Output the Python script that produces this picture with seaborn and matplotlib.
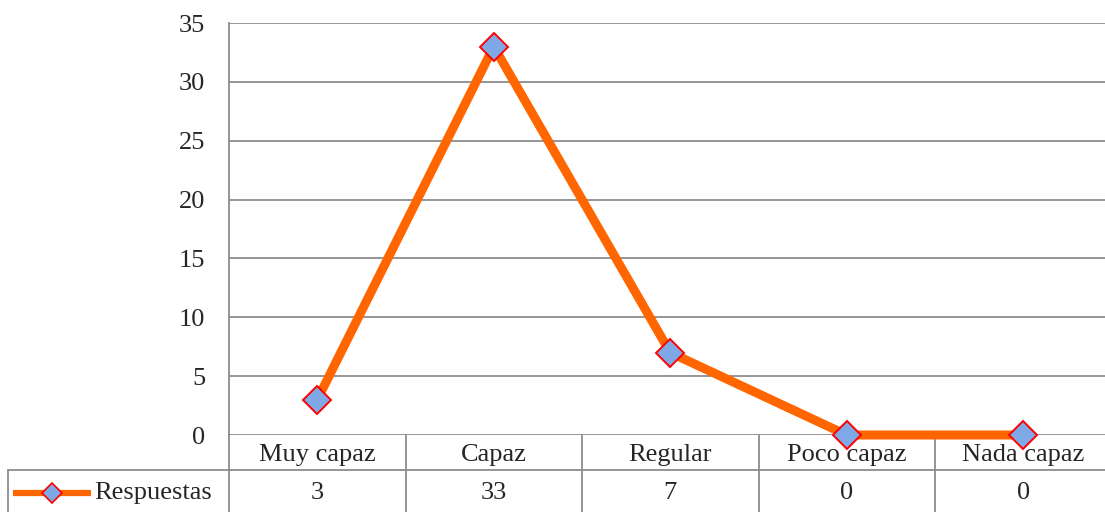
import matplotlib
matplotlib.use("Agg")
import matplotlib.pyplot as plt
import matplotlib.transforms as mtransforms
from matplotlib.lines import Line2D
import pandas as pd
import seaborn as sns

categories = ["Muy capaz", "Capaz", "Regular", "Poco capaz", "Nada capaz"]
respuestas = [3, 33, 7, 0, 0]
y_ticks = [0, 5, 10, 15, 20, 25, 30, 35]
series_name = "Respuestas"

W, H = 1105, 512
LINE_COLOR = "#FF6600"
GRID_COLOR = "#8C8C8C"
FS = 19


def fx(px):
    return px / W


def fy(py):
    return 1 - py / H


sns.set_theme(style="white")
plt.rcParams["font.family"] = ["Liberation Serif", "DejaVu Serif"]

fig = plt.figure(figsize=(W / 100, H / 100), dpi=100)
ax = fig.add_axes([fx(229), fy(435), fx(5 * 176.5), fy(23) - fy(435)])

df = pd.DataFrame({"cat": categories, "val": respuestas})
sns.lineplot(data=df, x="cat", y="val", ax=ax, color=LINE_COLOR, linewidth=6.5,
             marker="D", markersize=14, markerfacecolor="#7FA8E6",
             markeredgecolor="#FF0000", markeredgewidth=1.4, sort=False)
for ln in ax.get_lines():
    ln.set_clip_on(False)
    ln.set_zorder(5)

ax.set_xlim(-0.5, len(categories) - 0.5)
ax.set_ylim(0, 35)
ax.set_yticks(y_ticks)
ax.set_yticklabels([str(t) for t in y_ticks], fontsize=FS)
ax.tick_params(axis="y", length=0, pad=17)
ax.set_xticks([])
ax.set_xlabel("")
ax.set_ylabel("")
ax.grid(axis="y", color=GRID_COLOR, linewidth=1.3)
ax.grid(axis="x", visible=False)
for side in ["top", "right", "bottom"]:
    ax.spines[side].set_visible(False)
ax.spines["left"].set_color(GRID_COLOR)
ax.spines["left"].set_linewidth(1.3)

# data table under the chart
blend = mtransforms.blended_transform_factory(ax.transData, fig.transFigure)
row1 = fy(455)
row2 = fy(493)
for i, (cat, v) in enumerate(zip(categories, respuestas)):
    ax.text(i, row1, cat, transform=blend, ha="center", va="center", fontsize=FS)
    ax.text(i, row2, str(v), transform=blend, ha="center", va="center", fontsize=FS)
    ax.add_line(Line2D([i - 0.5, i - 0.5], [fy(435), 0], transform=blend,
                       color=GRID_COLOR, linewidth=1.3, clip_on=False))

fig.add_artist(Line2D([fx(8), 1], [fy(470), fy(470)], transform=fig.transFigure,
                      color=GRID_COLOR, linewidth=1.3))
fig.add_artist(Line2D([fx(8), fx(8)], [fy(470), 0], transform=fig.transFigure,
                      color=GRID_COLOR, linewidth=1.3))

# legend key in the table
fig.add_artist(Line2D([fx(13), fx(91)], [row2, row2], transform=fig.transFigure,
                      color=LINE_COLOR, linewidth=4.5, solid_capstyle="butt"))
fig.add_artist(Line2D([fx(52)], [row2], transform=fig.transFigure, marker="D",
                      markersize=10, markerfacecolor="#7FA8E6",
                      markeredgecolor="#FF0000", markeredgewidth=1.2))
fig.text(fx(94), row2, series_name, ha="left", va="center", fontsize=FS)

fig.savefig("out.png", dpi=100)
